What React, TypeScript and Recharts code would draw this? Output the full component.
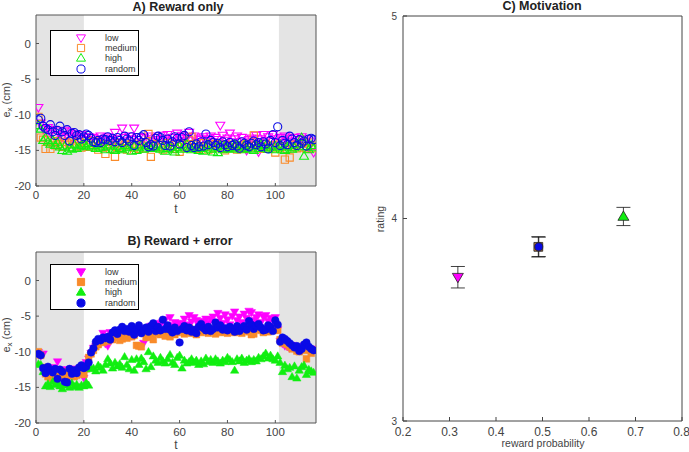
import React from "react"
import {
  ScatterChart,
  Scatter,
  XAxis,
  YAxis,
  ReferenceArea,
  Legend,
  ErrorBar,
  Label,
} from "recharts"

const FONT = "'Liberation Sans', Arial, Helvetica, sans-serif"

// series / categories
const seriesNames = ["low", "medium", "high", "random"]
const seriesColors = ["#ff00ff", "#f98b2a", "#11ee11", "#0a0ae6"]
const seriesKinds = ["down", "square", "up", "circle"]

// panels A and B axes
const tTicks = [0, 20, 40, 60, 80, 100]
const exTicks = [-20, -15, -10, -5, 0]
const tDomain = [0, 117]
const exDomain = [-20, 4]
const shadeEarly = [0, 20]
const shadeLate = [101.5, 117]

// A) Reward only, trials 1..116
const aLow = [
  -9.0, -11.2, -12.0, -12.4, -11.8, -12.6, -12.1, -12.9, -12.3, -12.8,
  -13.1, -12.2, -12.9, -12.4, -13.3, -12.7, -13.0, -13.4, -12.8, -13.2,
  -13.5, -13.1, -13.6, -13.2, -13.8, -13.4, -13.0, -13.7, -13.3, -13.1,
  -13.6, -13.9, -12.5, -13.4, -13.8, -11.9, -13.2, -13.6, -13.0, -13.4,
  -11.9, -13.5, -13.1, -13.8, -13.2, -14.3, -13.4, -13.0, -13.7, -13.2,
  -13.5, -13.8, -12.9, -13.4, -12.8, -13.6, -13.2, -13.9, -12.6, -13.3,
  -12.9, -13.7, -13.2, -12.5, -13.6, -13.0, -13.8, -13.3, -13.5, -13.1,
  -13.7, -13.4, -13.0, -13.8, -13.2, -13.5, -11.5, -12.9, -13.6, -13.3,
  -12.6, -13.8, -13.4, -13.0, -14.5, -13.2, -13.7, -15.0, -13.5, -13.3,
  -13.8, -12.9, -15.2, -13.4, -12.8, -13.6, -13.1, -13.7, -12.8, -13.4,
  -13.9, -13.2, -13.6, -13.0, -13.8, -13.3, -13.7, -13.2, -14.0, -13.5,
  -13.1, -13.8, -13.4, -14.6, -13.7, -15.3,
]
const aMedium = [
  -10.3, -13.2, -13.5, -14.8, -13.6, -14.8, -13.9, -14.3, -13.7, -14.1,
  -14.5, -13.8, -14.2, -13.9, -14.6, -14.1, -14.4, -13.8, -14.6, -14.3,
  -14.0, -14.5, -14.2, -13.7, -14.4, -14.9, -14.1, -14.6, -15.5, -14.2,
  -14.8, -14.3, -15.9, -14.5, -14.0, -14.7, -14.2, -14.9, -14.4, -14.1,
  -14.6, -14.2, -14.8, -14.3, -14.7, -13.9, -12.7, -15.9, -14.4, -14.1,
  -14.6, -14.2, -14.9, -14.4, -14.0, -14.7, -14.3, -14.8, -14.5, -15.2,
  -14.1, -14.6, -14.3, -13.5, -13.1, -14.7, -14.2, -14.8, -14.4, -14.0,
  -14.5, -14.9, -14.3, -14.7, -14.1, -14.6, -14.2, -14.8, -15.0, -14.4,
  -14.7, -14.2, -14.6, -14.9, -14.3, -14.5, -14.8, -14.1, -14.6, -14.4,
  -12.9, -14.2, -14.7, -14.4, -14.8, -14.1, -14.5, -14.3, -14.7, -15.3,
  -14.2, -14.6, -14.4, -16.3, -14.8, -16.0, -14.5, -14.2, -14.7, -14.4,
  -14.1, -14.6, -14.8, -13.9, -14.3, -14.7,
]
const aHigh = [
  -11.5, -12.0, -13.6, -13.2, -13.8, -14.1, -13.6, -14.3, -13.9, -14.5,
  -15.0, -14.4, -15.1, -14.6, -14.8, -14.2, -14.7, -14.5, -14.3, -14.1,
  -14.4, -14.0, -14.5, -14.3, -14.7, -14.2, -14.6, -14.4, -14.9, -14.5,
  -14.2, -14.8, -15.0, -14.4, -14.7, -14.9, -14.3, -14.6, -14.5, -15.1,
  -14.4, -15.0, -14.6, -14.2, -14.8, -14.5, -14.3, -14.7, -14.4, -14.6,
  -14.2, -14.8, -14.5, -15.1, -14.7, -14.4, -14.9, -15.2, -14.6, -14.3,
  -14.8, -14.5, -14.1, -14.7, -14.9, -14.4, -14.6, -15.0, -14.7, -15.1,
  -14.5, -14.2, -14.8, -15.2, -14.6, -15.3, -14.4, -14.9, -14.3, -14.7,
  -14.5, -14.8, -14.2, -14.6, -14.4, -14.9, -14.3, -14.7, -14.5, -14.8,
  -15.0, -14.4, -14.7, -14.2, -14.6, -14.3, -14.8, -14.5, -14.9, -14.4,
  -14.6, -14.2, -14.9, -15.0, -14.5, -14.3, -14.8, -14.6, -14.1, -14.4,
  -13.2, -15.8, -14.5, -14.9, -14.3, -14.6,
]
const aRandom = [
  -10.7, -10.5, -11.6, -11.9, -12.1, -11.4, -12.4, -12.9, -12.2, -11.6,
  -12.4, -12.9, -12.1, -13.7, -12.6, -12.5, -12.9, -12.8, -13.4, -13.1,
  -12.7, -12.9, -13.3, -13.8, -13.9, -13.6, -13.9, -13.4, -13.5, -13.1,
  -13.6, -13.3, -13.8, -13.2, -13.6, -13.9, -13.0, -13.4, -13.7, -13.1,
  -14.3, -13.2, -13.6, -13.1, -12.8, -13.9, -14.5, -14.2, -14.4, -13.3,
  -13.0, -13.2, -13.6, -14.3, -13.4, -14.4, -13.8, -13.1, -13.3, -14.1,
  -13.2, -12.9, -14.6, -12.4, -14.3, -14.6, -14.1, -14.5, -13.8, -14.4,
  -12.7, -14.2, -13.6, -13.9, -14.3, -14.0, -14.6, -13.8, -14.2, -14.5,
  -13.9, -14.3, -14.1, -14.4, -14.7, -13.8, -14.0, -14.3, -14.5, -14.0,
  -13.7, -14.2, -13.9, -14.5, -13.8, -14.1, -14.8, -13.6, -12.8, -13.9,
  -11.7, -14.3, -13.6, -14.0, -14.2, -13.0, -13.4, -13.9, -14.3, -13.5,
  -14.0, -13.7, -14.4, -13.4, -13.3, -13.5,
]

// B) Reward + error, trials 1..116
const bLow = [
  -10.1, -10.6, -10.3, -12.7, -12.4, -13.0, -12.2, -12.8, -11.4, -12.6,
  -12.9, -13.3, -12.5, -12.8, -13.1, -12.4, -12.9, -12.6, -12.7, -13.7,
  -11.5, -11.0, -10.2, -9.5, -9.2, -8.6, -8.8, -7.4, -8.9, -9.2,
  -7.3, -7.8, -7.5, -7.2, -7.9, -6.9, -7.6, -7.1, -7.4, -7.8,
  -7.0, -7.5, -6.8, -7.2, -8.8, -6.7, -7.1, -6.4, -6.9, -6.2,
  -6.6, -6.0, -5.8, -5.5, -6.3, -5.2, -6.4, -5.9, -6.1, -6.5,
  -6.0, -5.4, -6.2, -4.9, -5.8, -5.2, -5.6, -6.3, -5.7, -6.1,
  -5.4, -6.0, -5.5, -5.1, -5.8, -4.6, -5.3, -6.0, -4.8, -5.5,
  -6.2, -5.0, -4.4, -5.6, -5.1, -5.9, -4.7, -5.3, -4.3, -4.5,
  -5.6, -5.2, -4.8, -5.9, -5.1, -4.9, -5.7, -5.3, -5.6, -5.2,
  -6.9, -8.5, -8.9, -9.2, -9.3, -9.5, -9.1, -9.6, -9.8, -9.4,
  -9.7, -9.2, -9.5, -9.9, -9.6, -9.8,
]
const bMedium = [
  -10.0, -10.5, -12.2, -13.1, -13.5, -13.7, -13.0, -13.4, -12.9, -13.3,
  -13.6, -13.2, -12.8, -13.4, -13.1, -13.5, -13.3, -12.7, -12.9, -13.2,
  -12.4, -10.8, -10.3, -9.8, -9.3, -9.0, -8.4, -8.7, -8.1, -8.5,
  -7.9, -8.3, -7.6, -8.0, -8.4, -8.2, -7.8, -8.1, -7.5, -7.9,
  -7.7, -9.1, -9.2, -9.3, -7.4, -8.0, -7.6, -7.9, -8.3, -7.4,
  -7.2, -7.6, -7.0, -7.8, -7.4, -7.9, -7.1, -7.6, -7.3, -7.0,
  -6.9, -7.5, -7.2, -6.7, -7.4, -7.1, -7.6, -6.8, -7.3, -7.0,
  -6.9, -7.4, -7.1, -6.8, -7.5, -7.0, -7.3, -6.9, -7.2, -7.4,
  -7.0, -6.8, -7.3, -7.1, -6.9, -7.4, -7.0, -6.8, -7.2, -7.6,
  -7.5, -6.8, -6.6, -7.0, -7.3, -6.9, -7.2, -7.0, -6.7, -6.9,
  -7.0, -8.3, -8.8, -8.6, -9.0, -9.3, -9.6, -9.4, -9.9, -10.0,
  -9.6, -9.8, -11.0, -9.7, -10.2, -9.8,
]
const bHigh = [
  -11.7, -11.8, -12.8, -14.8, -14.5, -14.9, -14.2, -14.6, -14.3, -14.8,
  -15.2, -14.7, -14.5, -15.0, -14.4, -14.9, -14.6, -15.0, -14.7, -14.8,
  -14.3, -14.7, -12.4, -12.3, -12.7, -11.9, -12.2, -12.6, -11.8, -11.0,
  -11.6, -12.3, -11.5, -12.0, -11.7, -12.2, -10.7, -11.8, -12.4, -11.1,
  -12.6, -11.0, -11.8, -10.9, -11.4, -12.4, -10.0, -12.1, -10.6, -11.2,
  -11.5, -10.8, -11.3, -11.6, -11.0, -10.4, -11.5, -11.8, -10.8, -10.5,
  -12.3, -11.2, -11.6, -11.4, -11.0, -11.5, -11.2, -11.8, -11.3, -11.7,
  -10.9, -11.4, -11.1, -11.5, -11.0, -11.3, -11.6, -11.2, -11.4, -10.8,
  -11.1, -11.4, -12.6, -11.0, -11.3, -10.9, -11.5, -11.2, -11.0, -11.4,
  -11.1, -11.3, -10.8, -11.0, -10.6, -10.2, -10.9, -10.5, -11.0, -11.2,
  -10.6, -11.5, -12.8, -11.9, -12.4, -12.2, -13.5, -12.0, -13.7, -12.6,
  -12.1, -11.9, -13.2, -12.5, -12.7, -12.9,
]
const bRandom = [
  -10.3, -10.5, -12.3, -13.0, -12.1, -12.6, -12.9, -12.4, -13.8, -12.5,
  -12.8, -14.2, -14.3, -12.4, -13.1, -12.6, -13.0, -12.2, -11.9, -12.3,
  -12.1, -11.5, -10.1, -9.5, -8.6, -8.2, -8.4, -8.0, -8.1, -7.9,
  -8.3, -7.3, -7.0, -7.5, -6.9, -6.5, -7.1, -6.8, -7.2, -6.4,
  -7.6, -6.9, -6.3, -7.4, -7.0, -6.6, -7.2, -6.4, -6.0, -7.1,
  -6.5, -7.0, -5.5, -6.8, -6.3, -6.9, -7.3, -6.6, -7.1, -8.7,
  -6.8, -6.4, -7.0, -6.6, -7.2, -6.9, -7.4, -6.5, -6.1, -6.7,
  -7.0, -6.5, -7.1, -6.8, -5.9, -6.6, -6.3, -6.9, -6.7, -7.0,
  -6.5, -6.8, -7.2, -6.4, -7.1, -6.7, -6.4, -6.9, -5.7, -6.2,
  -6.8, -6.4, -6.1, -6.6, -7.0, -6.9, -6.3, -6.5, -7.1, -5.6,
  -6.2, -8.6, -8.0, -8.2, -8.5, -8.8, -9.1, -9.4, -9.2, -9.9,
  -9.6, -9.0, -8.7, -9.3, -9.6, -9.8,
]

// C) Motivation
const probTicks = [0.2, 0.3, 0.4, 0.5, 0.6, 0.7, 0.8]
const ratingTicks = [3, 4, 5]
const cProb = [0.318, 0.491, 0.674, 0.492]
const cRating = [3.71, 3.86, 4.01, 3.86]
const cErr = [0.053, 0.05, 0.045, 0.048]

const toPoints = (vals: number[]) => vals.map((v, i) => ({ t: i + 1, v }))
const panelA = [aLow, aMedium, aHigh, aRandom].map(toPoints)
const panelB = [bLow, bMedium, bHigh, bRandom].map(toPoints)
const panelC = seriesNames.map((_, i) => [
  { prob: cProb[i], rating: cRating[i], err: cErr[i] },
])

function Marker({ kind, cx, cy, r, fill, stroke, sw = 1 }: any) {
  if (kind === "circle") {
    return <circle cx={cx} cy={cy} r={r * 0.9} fill={fill} stroke={stroke} strokeWidth={sw} />
  }
  let d = ""
  if (kind === "down") d = `M${cx - r},${cy - r * 0.7}L${cx + r},${cy - r * 0.7}L${cx},${cy + r}Z`
  if (kind === "up") d = `M${cx - r},${cy + r * 0.7}L${cx + r},${cy + r * 0.7}L${cx},${cy - r}Z`
  if (kind === "square") {
    const s = r * 0.8
    d = `M${cx - s},${cy - s}L${cx + s},${cy - s}L${cx + s},${cy + s}L${cx - s},${cy + s}Z`
  }
  return <path d={d} fill={fill} stroke={stroke} strokeWidth={sw} />
}

function LegendBox({ filled }: { filled: boolean }) {
  return (
    <div
      style={{
        width: 87,
        height: 44,
        border: "1px solid #000",
        background: "#fff",
        position: "relative",
        fontFamily: FONT,
        fontSize: 9,
        color: "#333",
      }}
    >
      {seriesNames.map((name, i) => (
        <div
          key={name}
          style={{ position: "absolute", left: 0, top: 2 + i * 10.2, height: 10, display: "flex", alignItems: "center" }}
        >
          <svg width={50} height={10} style={{ overflow: "visible" }}>
            <Marker
              kind={seriesKinds[i]}
              cx={30}
              cy={5}
              r={4.5}
              fill={filled ? seriesColors[i] : "none"}
              stroke={seriesColors[i]}
            />
          </svg>
          <span style={{ marginLeft: 4, lineHeight: "10px" }}>{name}</span>
        </div>
      ))}
    </div>
  )
}

const tickStyle = { fill: "#444", fontSize: 11.5, fontFamily: FONT }

function TrialPanel({ series, filled, top, height, legendTop, yLabelY, tLabelY }: any) {
  const plotTop = top
  return (
    <ScatterChart
      width={330}
      height={height}
      margin={{ top: plotTop - 1, right: 13, bottom: height - plotTop - 171 - 30, left: 0 }}
    >
      <ReferenceArea x1={shadeEarly[0]} x2={shadeEarly[1]} fill="#e4e4e4" fillOpacity={1} stroke="none" />
      <ReferenceArea x1={shadeLate[0]} x2={shadeLate[1]} fill="#e4e4e4" fillOpacity={1} stroke="none" />
      <XAxis
        type="number"
        dataKey="t"
        domain={tDomain}
        ticks={tTicks}
        allowDataOverflow
        height={30}
        stroke="#555"
        tickSize={-3}
        tickMargin={8}
        tick={tickStyle}
        label={
          <Label
            content={() => (
              <text x={176} y={tLabelY} textAnchor="middle" fontSize={12} fill="#444" fontFamily={FONT}>
                t
              </text>
            )}
          />
        }
      />
      <XAxis xAxisId="top" orientation="top" type="number" dataKey="t" domain={tDomain} ticks={tTicks}
        allowDataOverflow height={1} stroke="#555" tickSize={-3} tick={false} />
      <YAxis
        type="number"
        dataKey="v"
        domain={exDomain}
        ticks={exTicks}
        allowDataOverflow
        width={36}
        stroke="#555"
        tickSize={-3}
        tickMargin={8}
        tick={tickStyle}
        label={
          <Label
            content={() => (
              <text
                x={10}
                y={yLabelY}
                transform={`rotate(-90 10 ${yLabelY})`}
                textAnchor="middle"
                fontSize={11}
                fill="#444"
                fontFamily={FONT}
              >
                e<tspan dy={2} fontSize={8}>x</tspan>
                <tspan dy={-2}> (cm)</tspan>
              </text>
            )}
          />
        }
      />
      <YAxis yAxisId="right" orientation="right" type="number" dataKey="v" domain={exDomain} ticks={exTicks}
        allowDataOverflow width={1} stroke="#555" tickSize={-3} tick={false} />
      <Legend
        layout="horizontal"
        verticalAlign="middle"
        align="center"
        wrapperStyle={{ left: 50, top: legendTop, width: 89, height: 46 }}
        content={() => <LegendBox filled={filled} />}
      />
      {series.map((pts: any[], i: number) => (
        <Scatter
          key={seriesNames[i]}
          name={seriesNames[i]}
          data={pts}
          isAnimationActive={false}
          shape={(p: any) => (
            <Marker
              kind={seriesKinds[i]}
              cx={p.cx}
              cy={p.cy}
              r={filled ? 4.2 : 4.5}
              fill={filled ? seriesColors[i] : "none"}
              stroke={seriesColors[i]}
              sw={filled ? 0.5 : 1.1}
            />
          )}
        />
      ))}
    </ScatterChart>
  )
}

function MotivationPanel() {
  return (
    <ScatterChart width={349} height={452} margin={{ top: 15, right: 6, bottom: 1, left: 33 }}>
      <XAxis
        type="number"
        dataKey="prob"
        domain={[0.2, 0.8]}
        ticks={probTicks}
        allowDataOverflow
        height={30}
        stroke="#444"
        tickSize={-4}
        tickMargin={10}
        tickFormatter={(v: number) => v.toFixed(1)}
        tick={{ fill: "#444", fontSize: 12, fontFamily: FONT }}
        label={
          <Label
            content={() => (
              <text x={203} y={447} textAnchor="middle" fontSize={10.5} fill="#444" fontFamily={FONT}>
                reward probability
              </text>
            )}
          />
        }
      />
      <XAxis xAxisId="top" orientation="top" type="number" dataKey="prob" domain={[0.2, 0.8]} ticks={probTicks}
        allowDataOverflow height={1} stroke="#444" tickSize={-4} tick={false} />
      <YAxis
        type="number"
        dataKey="rating"
        domain={[3, 5]}
        ticks={ratingTicks}
        allowDataOverflow
        width={30}
        stroke="#444"
        tickSize={-4}
        tickMargin={10}
        tick={{ fill: "#444", fontSize: 10, fontFamily: FONT }}
        label={
          <Label
            content={() => (
              <text x={44} y={219} transform="rotate(-90 44 219)" textAnchor="middle" fontSize={10.5} fill="#444" fontFamily={FONT}>
                rating
              </text>
            )}
          />
        }
      />
      <YAxis yAxisId="right" orientation="right" type="number" dataKey="rating" domain={[3, 5]} ticks={ratingTicks}
        allowDataOverflow width={1} stroke="#444" tickSize={-4} tick={false} />
      {panelC.map((pts, i) => (
        <Scatter
          key={seriesNames[i]}
          name={seriesNames[i]}
          data={pts}
          isAnimationActive={false}
          shape={(p: any) => (
            <Marker
              kind={seriesKinds[i]}
              cx={p.cx}
              cy={p.cy}
              r={i === 3 ? 4.5 : 5.5}
              fill={i === 1 ? "#b8773c" : seriesColors[i]}
              stroke="#222"
              sw={0.8}
            />
          )}
        >
          <ErrorBar dataKey="err" direction="y" width={7} stroke="#111" strokeWidth={0.8} />
        </Scatter>
      ))}
    </ScatterChart>
  )
}

export default function App() {
  return (
    <div style={{ position: "absolute", left: 0, top: 0, width: 689, height: 452, background: "#fff", fontFamily: FONT }}>
      <div style={{ position: "absolute", left: 0, top: 0 }}>
        <TrialPanel series={panelA} filled={false} top={15} height={220} legendTop={30} yLabelY={100} tLabelY={213} />
      </div>
      <div style={{ position: "absolute", left: 0, top: 220 }}>
        <TrialPanel series={panelB} filled={true} top={32} height={232} legendTop={44} yLabelY={115} tLabelY={229} />
      </div>
      <div style={{ position: "absolute", left: 340, top: 0 }}>
        <MotivationPanel />
      </div>
      <svg width={689} height={452} style={{ position: "absolute", left: 0, top: 0, pointerEvents: "none" }}>
        <text x={178} y={11} textAnchor="middle" fontSize={12.5} fontWeight="bold" fill="#222" fontFamily={FONT}>
          A) Reward only
        </text>
        <text x={180} y={245} textAnchor="middle" fontSize={12.5} fontWeight="bold" fill="#222" fontFamily={FONT}>
          B) Reward + error
        </text>
        <text x={542} y={10} textAnchor="middle" fontSize={12.5} fontWeight="bold" fill="#222" fontFamily={FONT}>
          C) Motivation
        </text>
      </svg>
    </div>
  )
}
